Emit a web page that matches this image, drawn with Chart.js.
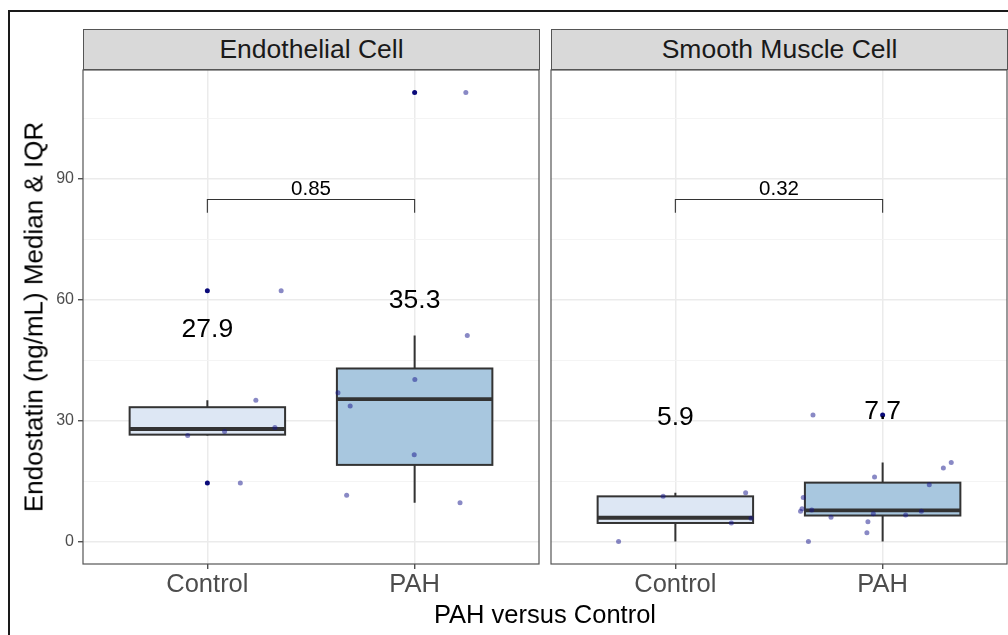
<!DOCTYPE html>
<html>
<head>
<meta charset="utf-8">
<script src="https://cdn.jsdelivr.net/npm/chart.js@4.4.1/dist/chart.umd.min.js"></script>
<style>
html,body{margin:0;padding:0;background:#fff;}
body{width:1008px;height:635px;position:relative;overflow:hidden;font-family:"Liberation Sans",Arial,sans-serif;}
#frame{position:absolute;left:8px;top:10px;width:1100px;height:700px;border:2px solid #1a1a1a;box-sizing:border-box;}
.strip{position:absolute;top:29px;height:41px;background:#d9d9d9;border:1px solid #555;box-sizing:border-box;font-size:26.5px;color:#1a1a1a;text-align:center;line-height:39px;white-space:nowrap;}
#s1{left:83px;width:457px;}
#s2{left:551px;width:457px;}
#cA{position:absolute;left:0;top:0;}
#cB{position:absolute;left:545px;top:0;}
#ytitle{position:absolute;left:34px;top:317px;transform:translate(-50%,-50%) rotate(-90deg);white-space:nowrap;font-size:26px;color:#000;}
#xtitle{position:absolute;left:545px;top:614px;transform:translate(-50%,-50%);white-space:nowrap;font-size:25.5px;color:#000;}
</style>
</head>
<body>
<div id="frame"></div>
<canvas id="cA" width="545" height="635"></canvas>
<canvas id="cB" width="463" height="635"></canvas>
<div class="strip" id="s1"></div>
<div class="strip" id="s2"></div>
<div id="ytitle">Endostatin (ng/mL) Median &amp; IQR</div>
<div id="xtitle">PAH versus Control</div>
<script>
// ---------- data ----------
const categories = ['Control', 'PAH'];
const panelTitles = ['Endothelial Cell', 'Smooth Muscle Cell'];
const yMajorTicks = [0, 30, 60, 90];
const yMinorTicks = [15, 45, 75, 105];

// Endothelial cell: individual values and their jittered x positions
const endoControlVals = [35.0, 26.3, 27.3, 28.3, 14.5, 62.2];
const endoControlJitterX = [1.234, 0.905, 1.083, 1.326, 1.159, 1.356];
const endoPahVals = [36.9, 33.6, 40.2, 21.5, 11.5, 9.6, 51.1, 111.3];
const endoPahJitterX = [1.630, 1.689, 2.001, 1.998, 1.672, 2.219, 2.254, 2.247];

// Endothelial cell box statistics [Control, PAH]
const endoQ1 = [26.5, 19.0];
const endoMedian = [27.9, 35.3];
const endoQ3 = [33.3, 42.9];
const endoWhiskerLow = [26.3, 9.6];
const endoWhiskerHigh = [35.0, 51.1];
const endoOutliers = [[14.5, 62.2], [111.3]];
const endoMedianLabels = ['27.9', '35.3'];
const endoMedianLabelY = [52.6, 59.8];
const endoPValue = '0.85';

// Smooth muscle cell
const smcControlVals = [0.0, 11.2, 12.1, 4.6, 5.8];
const smcControlJitterX = [0.726, 0.941, 1.339, 1.270, 1.365];
const smcPahVals = [31.4, 18.2, 19.6, 16.0, 14.1, 10.9, 8.1, 7.5, 7.8, 6.9, 6.6, 7.5, 6.0, 4.9, 2.2, 0.0];
const smcPahJitterX = [1.664, 2.293, 2.331, 1.961, 2.225, 1.617, 1.611, 1.604, 1.658, 1.955, 2.111, 2.187, 1.751, 1.929, 1.924, 1.642];

const smcQ1 = [4.6, 6.45];
const smcMedian = [5.9, 7.7];
const smcQ3 = [11.2, 14.6];
const smcWhiskerLow = [0.0, 0.0];
const smcWhiskerHigh = [12.1, 19.6];
const smcOutliers = [[], [31.4]];
const smcMedianLabels = ['5.9', '7.7'];
const smcMedianLabelY = [30.7, 32.3];
const smcPValue = '0.32';

const bracketY = 84.8;
const bracketTipY = 81.5;

// ---------- styling ----------
const FONT = '"Liberation Sans", Arial, sans-serif';
const Y_MIN = -5.57, Y_MAX = 116.9;
const BOX_W = 0.75;
const boxFills = ['#dde7f4', '#a8c7df'];
const lineCol = '#333333';

document.getElementById('s1').textContent = panelTitles[0];
document.getElementById('s2').textContent = panelTitles[1];

function zipPts(xs, ys) { return ys.map((v, i) => ({x: xs[i], y: v})); }
function outlierPts(outs) {
  const pts = [];
  outs.forEach((arr, i) => arr.forEach(v => pts.push({x: i + 1, y: v})));
  return pts;
}

const boxPlugin = {
  id: 'boxplot',
  beforeDatasetsDraw(chart, args, o) {
    const {ctx} = chart;
    const xs = chart.scales.x, ys = chart.scales.y;
    ctx.save();
    o.median.forEach((m, i) => {
      const cx = xs.getPixelForValue(i + 1);
      const l = xs.getPixelForValue(i + 1 - BOX_W / 2);
      const r = xs.getPixelForValue(i + 1 + BOX_W / 2);
      const yq1 = ys.getPixelForValue(o.q1[i]);
      const yq3 = ys.getPixelForValue(o.q3[i]);
      const ymed = ys.getPixelForValue(m);
      ctx.strokeStyle = lineCol;
      ctx.lineWidth = 2;
      ctx.beginPath();
      ctx.moveTo(cx, ys.getPixelForValue(o.hi[i])); ctx.lineTo(cx, yq3);
      ctx.moveTo(cx, ys.getPixelForValue(o.lo[i])); ctx.lineTo(cx, yq1);
      ctx.stroke();
      ctx.fillStyle = boxFills[i];
      ctx.fillRect(l, yq3, r - l, yq1 - yq3);
      ctx.strokeRect(l, yq3, r - l, yq1 - yq3);
      ctx.lineWidth = 3.8;
      ctx.beginPath();
      ctx.moveTo(l, ymed); ctx.lineTo(r, ymed);
      ctx.stroke();
    });
    ctx.restore();
  },
  afterDatasetsDraw(chart, args, o) {
    const {ctx, chartArea: a} = chart;
    const xs = chart.scales.x, ys = chart.scales.y;
    ctx.save();
    // median labels
    ctx.fillStyle = '#000';
    ctx.font = '26.5px ' + FONT;
    ctx.textAlign = 'center';
    ctx.textBaseline = 'middle';
    o.labels.forEach((t, i) => {
      ctx.fillText(t, xs.getPixelForValue(i + 1), ys.getPixelForValue(o.labelY[i]));
    });
    // bracket
    const x1 = xs.getPixelForValue(1), x2 = xs.getPixelForValue(2);
    const yb = ys.getPixelForValue(bracketY), yt = ys.getPixelForValue(bracketTipY);
    ctx.strokeStyle = lineCol;
    ctx.lineWidth = 1.1;
    ctx.beginPath();
    ctx.moveTo(x1, yt); ctx.lineTo(x1, yb); ctx.lineTo(x2, yb); ctx.lineTo(x2, yt);
    ctx.stroke();
    ctx.font = '20.5px ' + FONT;
    ctx.textBaseline = 'alphabetic';
    ctx.fillText(o.p, (x1 + x2) / 2, yb - 4);
    // panel border
    ctx.strokeStyle = '#555';
    ctx.lineWidth = 1.2;
    ctx.strokeRect(a.left, a.top, a.right - a.left, a.bottom - a.top);
    ctx.restore();
  }
};

function isMajor(v) { return yMajorTicks.includes(v); }

function makeChart(id, showY, padLeft, padRight, jit, vals, stats) {
  return new Chart(document.getElementById(id), {
    type: 'scatter',
    data: {
      datasets: [
        {
          data: [...zipPts(jit[0], vals[0]), ...zipPts(jit[1], vals[1])],
          pointRadius: 2.5, pointBorderWidth: 0,
          backgroundColor: 'rgba(20,20,140,0.5)', borderColor: 'rgba(0,0,0,0)'
        },
        {
          data: outlierPts(stats.outliers),
          pointRadius: 2.5, pointBorderWidth: 0,
          backgroundColor: '#0a0a7a', borderColor: 'rgba(0,0,0,0)'
        }
      ]
    },
    options: {
      responsive: false,
      animation: false,
      events: [],
      layout: {autoPadding: false, padding: {left: padLeft, right: padRight, top: 70, bottom: 0}},
      plugins: {
        legend: {display: false},
        tooltip: {enabled: false},
        boxplot: stats
      },
      scales: {
        x: {
          type: 'linear', min: 0.4, max: 2.6,
          afterBuildTicks: s => { s.ticks = categories.map((c, i) => ({value: i + 1})); },
          afterFit: s => { s.height = 71; },
          border: {display: false},
          grid: {color: '#ebebeb', lineWidth: 1.5, tickLength: 5, tickColor: lineCol, tickWidth: 1.2},
          ticks: {
            callback: (v, i) => categories[i],
            font: {size: 25.5, family: FONT}, color: '#4d4d4d',
            padding: 1, maxRotation: 0, autoSkip: false
          }
        },
        y: {
          type: 'linear', min: Y_MIN, max: Y_MAX,
          afterBuildTicks: s => {
            s.ticks = [...yMajorTicks, ...yMinorTicks].sort((a, b) => a - b).map(v => ({value: v}));
          },
          afterFit: s => { s.width = showY ? 83 : 0; },
          border: {display: false},
          grid: {
            color: c => (c.tick && isMajor(c.tick.value)) ? '#ebebeb' : '#f3f3f3',
            lineWidth: c => (c.tick && isMajor(c.tick.value)) ? 1.5 : 0.9,
            drawTicks: showY, tickLength: 5,
            tickColor: c => (c.tick && isMajor(c.tick.value)) ? lineCol : 'rgba(0,0,0,0)',
            tickWidth: 1.2
          },
          ticks: {
            display: showY,
            callback: v => isMajor(v) ? String(v) : '',
            font: {size: 16, family: FONT}, color: '#4d4d4d', padding: 4, autoSkip: false
          }
        }
      }
    },
    plugins: [boxPlugin]
  });
}

makeChart('cA', true, 0, 6,
  [endoControlJitterX, endoPahJitterX], [endoControlVals, endoPahVals],
  {q1: endoQ1, median: endoMedian, q3: endoQ3, lo: endoWhiskerLow, hi: endoWhiskerHigh,
   outliers: endoOutliers, labels: endoMedianLabels, labelY: endoMedianLabelY, p: endoPValue});

makeChart('cB', false, 6, 1,
  [smcControlJitterX, smcPahJitterX], [smcControlVals, smcPahVals],
  {q1: smcQ1, median: smcMedian, q3: smcQ3, lo: smcWhiskerLow, hi: smcWhiskerHigh,
   outliers: smcOutliers, labels: smcMedianLabels, labelY: smcMedianLabelY, p: smcPValue});
</script>
</body>
</html>
